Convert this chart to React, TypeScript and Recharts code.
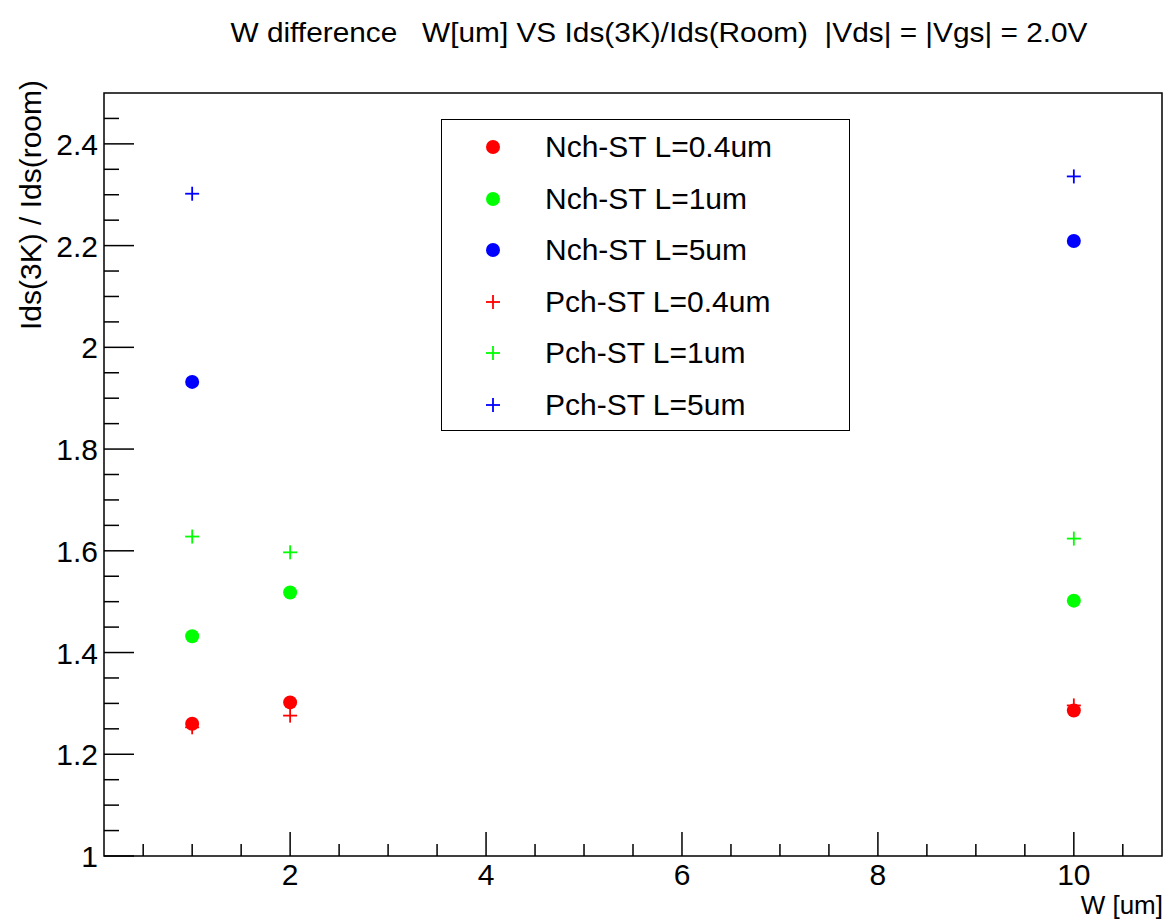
import { ScatterChart, Scatter, XAxis, YAxis, ReferenceArea } from "recharts";

// W [um] for each series
const widths = [1, 2, 10];
const widthsL5 = [1, 10];

// Ids(3K)/Ids(room)
const nch04 = [1.26, 1.302, 1.286];
const nch1 = [1.432, 1.518, 1.502];
const nch5 = [1.932, 2.209];
const pch04 = [1.253, 1.276, 1.296];
const pch1 = [1.628, 1.597, 1.624];
const pch5 = [2.302, 2.336];

const xTicks = [0.5, 1, 1.5, 2, 2.5, 3, 3.5, 4, 4.5, 5, 5.5, 6, 6.5, 7, 7.5, 8, 8.5, 9, 9.5, 10, 10.5];
const yTicks = [
  1, 1.05, 1.1, 1.15, 1.2, 1.25, 1.3, 1.35, 1.4, 1.45, 1.5, 1.55, 1.6, 1.65, 1.7, 1.75,
  1.8, 1.85, 1.9, 1.95, 2, 2.05, 2.1, 2.15, 2.2, 2.25, 2.3, 2.35, 2.4, 2.45,
];

const FONT = "'Liberation Sans', Arial, Helvetica, sans-serif";

const toPoints = (xs: number[], ys: number[]) => xs.map((x, i) => ({ x, y: ys[i] }));

type Series = { name: string; color: string; kind: "dot" | "plus"; data: { x: number; y: number }[] };

const series: Series[] = [
  { name: "Nch-ST L=0.4um", color: "#ff0000", kind: "dot", data: toPoints(widths, nch04) },
  { name: "Nch-ST L=1um", color: "#00ff00", kind: "dot", data: toPoints(widths, nch1) },
  { name: "Nch-ST L=5um", color: "#0000ff", kind: "dot", data: toPoints(widthsL5, nch5) },
  { name: "Pch-ST L=0.4um", color: "#ff0000", kind: "plus", data: toPoints(widths, pch04) },
  { name: "Pch-ST L=1um", color: "#00ff00", kind: "plus", data: toPoints(widths, pch1) },
  { name: "Pch-ST L=5um", color: "#0000ff", kind: "plus", data: toPoints(widthsL5, pch5) },
];

// pluses first so the dots sit on top, like the original
const drawOrder = [...series.filter((s) => s.kind === "plus"), ...series.filter((s) => s.kind === "dot")];

const isMult = (v: number, step: number) => Math.abs(v / step - Math.round(v / step)) < 1e-6;

function XTick({ x, y, payload }: any) {
  const v = payload.value;
  const major = isMult(v, 2);
  return (
    <g>
      <line x1={x} x2={x} y1={y} y2={y - (major ? 24 : 12)} stroke="#000" strokeWidth={1.5} />
      {major && (
        <text x={x} y={y + 29} textAnchor="middle" fontSize={30} fontFamily={FONT} fill="#000">
          {v}
        </text>
      )}
    </g>
  );
}

function YTick({ x, y, payload }: any) {
  const v = payload.value;
  const major = isMult(v, 0.2);
  return (
    <g>
      <line x1={x} x2={x + (major ? 30 : 15)} y1={y} y2={y} stroke="#000" strokeWidth={1.5} />
      {major && (
        <text x={x - 6} y={y + 11} textAnchor="end" fontSize={30} fontFamily={FONT} fill="#000">
          {String(Math.round(v * 10) / 10)}
        </text>
      )}
    </g>
  );
}

function Marker({ cx, cy, color, kind }: { cx: number; cy: number; color: string; kind: string }) {
  if (kind === "dot") return <circle cx={cx} cy={cy} r={7} fill={color} />;
  return (
    <g stroke={color} strokeWidth={1.8}>
      <line x1={cx - 7} x2={cx + 7} y1={cy} y2={cy} />
      <line x1={cx} x2={cx} y1={cy - 7} y2={cy + 7} />
    </g>
  );
}

export default function App() {
  return (
    <div style={{ position: "absolute", left: 0, top: 0, width: 1170, height: 921, background: "#fff" }}>
      <ScatterChart width={1170} height={921} margin={{ top: 93, right: 8, bottom: 0, left: 0 }}>
        <XAxis
          type="number"
          dataKey="x"
          domain={[0.1, 10.9]}
          ticks={xTicks}
          interval={0}
          height={65}
          allowDataOverflow
          tickLine={false}
          tickSize={0}
          tickMargin={0}
          tick={<XTick />}
          axisLine={false}
        />
        <YAxis
          type="number"
          dataKey="y"
          domain={[1, 2.5]}
          ticks={yTicks}
          interval={0}
          width={104}
          allowDataOverflow
          tickLine={false}
          tickSize={0}
          tickMargin={0}
          tick={<YTick />}
          axisLine={false}
        />
        <ReferenceArea x1={0.1} x2={10.9} y1={1} y2={2.5} fill="none" stroke="#000" strokeWidth={1.5} strokeOpacity={1} fillOpacity={0} />
        {drawOrder.map((s) => (
          <Scatter
            key={s.name}
            name={s.name}
            data={s.data}
            isAnimationActive={false}
            shape={(p: any) => <Marker cx={p.cx} cy={p.cy} color={s.color} kind={s.kind} />}
          />
        ))}
      </ScatterChart>

      <svg width={1170} height={921} style={{ position: "absolute", left: 0, top: 0, pointerEvents: "none" }}>
        <text x={659} y={42} textAnchor="middle" fontSize={28} fontFamily={FONT} fill="#000" textLength={857} lengthAdjust="spacingAndGlyphs" xmlSpace="preserve">
          W difference   W[um] VS Ids(3K)/Ids(Room)  |Vds| = |Vgs| = 2.0V
        </text>
        <text x={0} y={0} transform="translate(41,80) rotate(-90)" textAnchor="end" fontSize={30} fontFamily={FONT} fill="#000">
          Ids(3K) / Ids(room)
        </text>
        <text x={1163} y={914} textAnchor="end" fontSize={26} fontFamily={FONT} fill="#000">
          W [um]
        </text>
      </svg>

      <div
        style={{
          position: "absolute",
          left: 441,
          top: 119,
          width: 409,
          height: 312,
          boxSizing: "border-box",
          border: "1.5px solid #000",
          background: "#fff",
          fontFamily: FONT,
        }}
      >
        {series.map((s, i) => (
          <div key={s.name} style={{ position: "absolute", left: 0, top: 27 + i * 51.6 - 20, height: 40, width: "100%" }}>
            <svg width={100} height={40} style={{ position: "absolute", left: 0, top: 0 }}>
              <Marker cx={51} cy={20} color={s.color} kind={s.kind} />
            </svg>
            <span style={{ position: "absolute", left: 103, top: 0, lineHeight: "40px", fontSize: 30, whiteSpace: "nowrap" }}>
              {s.name}
            </span>
          </div>
        ))}
      </div>
    </div>
  );
}
